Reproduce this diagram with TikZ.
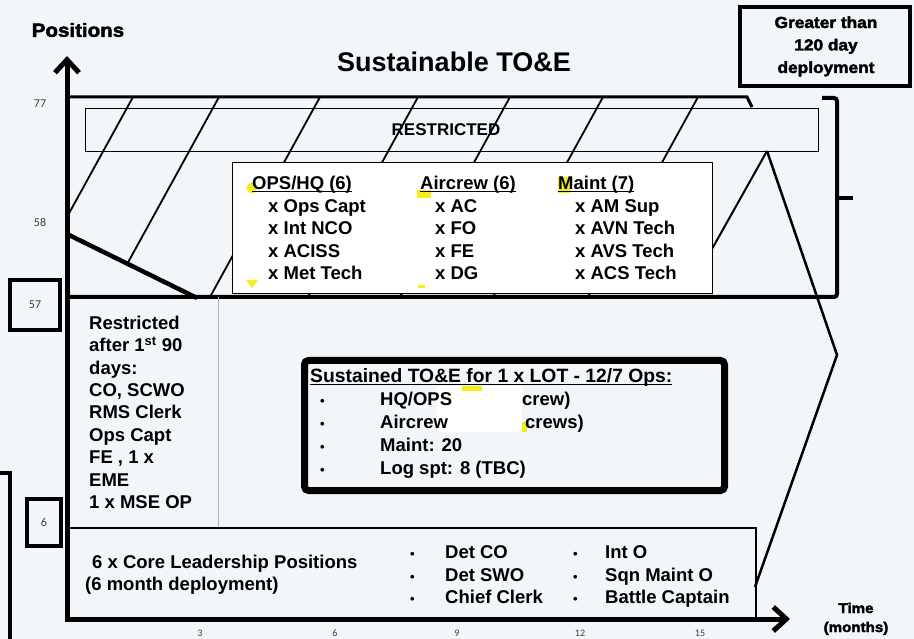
\documentclass[tikz,border=0pt]{standalone}
\usepackage{fontspec}
\setmainfont{Liberation Sans}
\newfontfamily\heavyfont{Liberation Sans}[BoldFeatures={FakeBold=2.5,FakeStretch=1.08}]
\newfontfamily\numfont{Carlito}
\usetikzlibrary{arrows.meta}
\definecolor{bgc}{RGB}{242,246,249}
\definecolor{hl}{RGB}{245,238,30}
\definecolor{numc}{RGB}{60,60,60}
\newcommand{\myul}[1]{\setbox0\hbox{#1}\rlap{\rule[-2.4pt]{\wd0}{1.4pt}}\box0}
\tikzset{
  body/.style={inner sep=0pt, font=\bfseries\fontsize{18.5}{22.4}\selectfont, anchor=base west},
  heavy/.style={inner sep=0pt, font=\heavyfont\bfseries\fontsize{16}{22.5}\selectfont, align=center},
  num/.style={inner sep=0pt, font=\numfont\fontsize{12}{14}\selectfont, text=numc},
  hatchline/.style={line width=1.8pt},
  axisline/.style={line width=5pt, -{Straight Barb[length=13pt,width=24pt]}},
  thickbox/.style={draw, line width=4pt, inner sep=0pt},
  thinbox/.style={draw, line width=1.3pt, inner sep=0pt, anchor=north west},
  bul/.style={inner sep=0pt, font=\bfseries\fontsize{13}{14}\selectfont, anchor=base west},
}
\begin{document}
\begin{tikzpicture}[x=1pt,y=-1pt]
\useasboundingbox (0,0) rectangle (914,639);
\clip (0,0) rectangle (914,639);
\fill[bgc] (0,0) rectangle (914,639);

% hatching
\begin{scope}
\clip (67,97) -- (760,97) -- (760,297) -- (197,297) -- (67,234) -- cycle;
\foreach \t in {133,219,320,418,510,603,698} \draw[hatchline] (\t,97) -- ++(-110,200);
\end{scope}

% restricted bar
\node[thinbox, minimum width=733pt, minimum height=43pt] (bar) at (85,108) {};
\node[inner sep=0pt, font=\bfseries\fontsize{17}{20}\selectfont] (restr) at (446,130) {RESTRICTED};

% outline of the upper region
\draw[line width=3pt] (67,97) -- (747,97) -- (752,107);
\draw[line width=4pt, rounded corners=3pt] (67,297) -- (837,297) -- (837,98) -- (822,98);
\draw[line width=4pt] (837,198) -- (853,198);
\draw[line width=4.5pt] (67,234) -- (197,298);

% chevron
\coordinate (apex) at (767,151);
\coordinate (vtx) at (837,355);
\coordinate (cend) at (755,587);
\coordinate (tri) at (712,249);
\draw[line width=2.5pt, line join=miter] (apex) -- (vtx) -- (cend);
\draw[line width=2pt] (apex) -- (tri);

% inner box
\node[thinbox, fill=white, minimum width=480pt, minimum height=131pt] (inner) at (232,162) {};
\fill[hl] (558,177) rectangle (570,193);
\fill[hl] (252,188) circle (5.5);
\fill[hl] (417,190) rectangle (431,198);
\fill[hl] (246,280) -- (258,280) -- (252,288) -- cycle;
\fill[hl] (418,285) rectangle (425,288);

\node[body] (opsh) at (252,190) {\myul{OPS/HQ (6)}};
\node[body] (ops1) at (268,212.5) {x Ops Capt};
\node[body] (ops2) at (268,235) {x Int NCO};
\node[body] (ops3) at (268,257.5) {x ACISS};
\node[body] (ops4) at (268,280) {x Met Tech};
\node[body] (acrh) at (420,190) {\myul{Aircrew (6)}};
\node[body] (acr1) at (435,212.5) {x AC};
\node[body] (acr2) at (435,235) {x FO};
\node[body] (acr3) at (435,257.5) {x FE};
\node[body] (acr4) at (435,280) {x DG};
\node[body] (mnth) at (558,190) {\myul{Maint (7)}};
\node[body] (mnt1) at (575,212.5) {x AM Sup};
\node[body] (mnt2) at (575,235) {x AVN Tech};
\node[body] (mnt3) at (575,257.5) {x AVS Tech};
\node[body] (mnt4) at (575,280) {x ACS Tech};

% middle region
\draw[line width=0.8pt, black!30] (218,297) -- (218,527);
\node[body, align=left] (rtext) at (89,508.5) {Restricted\\after 1\textsuperscript{st} 90\\days:\\CO, SCWO\\RMS Clerk\\Ops Capt\\FE , 1 x\\EME\\1 x MSE OP};

% sustained box
\node[thinbox, line width=7pt, rounded corners=4pt, minimum width=420pt, minimum height=130pt] (sus) at (301,357) {};
\fill[white] (437,386) rectangle (522,432);
\fill[hl] (462,386) rectangle (482,391);
\fill[hl] (522,422) rectangle (527,432);
\node[body, font=\bfseries\fontsize{19.3}{22.4}\selectfont] (sush) at (310,383) {\myul{Sustained TO\&E for 1 x LOT - 12/7 Ops:}};
\node[bul] (sb1) at (320,405.5) {•};
\node[bul] (sb2) at (320,428.5) {•};
\node[bul] (sb3) at (320,451.5) {•};
\node[bul] (sb4) at (320,474.5) {•};
\node[body] (sus1) at (380,405.5) {HQ/OPS};
\node[body] (sus1b) at (522,405.5) {crew)};
\node[body] (sus2) at (380,428.5) {Aircrew};
\node[body] (sus2b) at (525,428.5) {crews)};
\node[body] (sus3) at (380,451.5) {Maint: 20};
\node[body] (sus4) at (380,474.5) {Log spt: 8 (TBC)};

% bottom box
\node[thinbox, line width=1.5pt, minimum width=688pt, minimum height=92pt] (core) at (67,527) {};
\node[body] (core1) at (92,568.5) {6 x Core Leadership Positions};
\node[body] (core2) at (85,590) {(6 month deployment)};
\node[bul] (cb1) at (410,558.5) {•};
\node[bul] (cb2) at (410,581.5) {•};
\node[bul] (cb3) at (410,603.5) {•};
\node[body] (c1) at (445,558.5) {Det CO};
\node[body] (c2) at (445,581.5) {Det SWO};
\node[body] (c3) at (445,603.5) {Chief Clerk};
\node[bul] (cb4) at (573,558.5) {•};
\node[bul] (cb5) at (573,581.5) {•};
\node[bul] (cb6) at (573,603.5) {•};
\node[body] (c4) at (605,558.5) {Int O};
\node[body] (c5) at (605,581.5) {Sqn Maint O};
\node[body] (c6) at (605,603.5) {Battle Captain};

% axes
\coordinate (origin) at (67,619);
\coordinate (ytip) at (67,56);
\coordinate (xtip) at (790,619);
\draw[axisline] (67,621.5) -- (ytip);
\draw[axisline] (64.5,619) -- (xtip);

% left bracket
\draw[line width=4pt] (-5,473) -- (10,473) -- (10,645);

% small boxes
\node[thickbox, num, minimum width=50pt, minimum height=50pt] (b57) at (35,305) {57};
\node[thickbox, num, minimum width=34pt, minimum height=47pt] (b6) at (44,522.5) {6};
\node[num] (n77) at (40,104) {77};
\node[num] (n58) at (40,222) {58};
\node[num, font=\numfont\fontsize{10}{12}\selectfont] (t3) at (200,633) {3};
\node[num, font=\numfont\fontsize{10}{12}\selectfont] (t6) at (335,633) {6};
\node[num, font=\numfont\fontsize{10}{12}\selectfont] (t9) at (457,633) {9};
\node[num, font=\numfont\fontsize{10}{12}\selectfont] (t12) at (580,633) {12};
\node[num, font=\numfont\fontsize{10}{12}\selectfont] (t15) at (700,633) {15};

% titles
\node[inner sep=0pt, font=\bfseries\fontsize{27}{30}\selectfont] (title) at (454,62) {Sustainable TO\&E};
\node[heavy, font=\heavyfont\bfseries\fontsize{19}{20}\selectfont] (ylab) at (78,30) {Positions};
\node[thickbox, minimum width=170pt, minimum height=79pt] (gbox) at (825,46.5) {};
\node[heavy, anchor=base] (gtext) at (826,73) {Greater than\\120 day\\deployment};
\node[heavy, anchor=base, font=\heavyfont\bfseries\fontsize{14}{19}\selectfont] (tlab) at (856,632) {Time\\(months)};
\end{tikzpicture}
\end{document}
